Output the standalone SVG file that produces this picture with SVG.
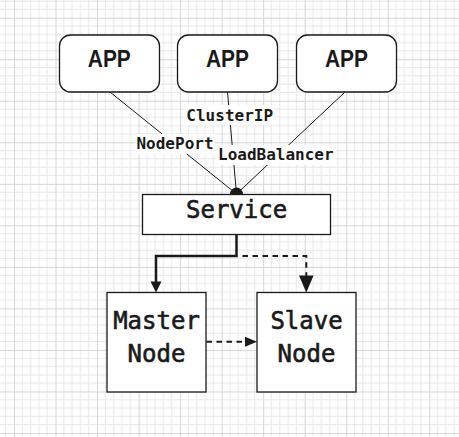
<svg xmlns="http://www.w3.org/2000/svg" width="459" height="437" viewBox="0 0 459 437">
  <defs>
    <pattern id="grid" patternUnits="userSpaceOnUse" x="14" y="17.7" width="41.53" height="41.53">
      <path d="M8.3 0V41.53M16.61 0V41.53M24.92 0V41.53M33.22 0V41.53M0 8.3H41.53M0 16.61H41.53M0 24.92H41.53M0 33.22H41.53" stroke="#e8e8e8" stroke-width="1" fill="none"/>
      <path d="M0.5 0V41.53M0 0.5H41.53" stroke="#d6d6d6" stroke-width="1" fill="none"/>
    </pattern>
    <style>
      .app rect { fill: #ffffff; stroke: #1a1a1a; stroke-width: 1.3; }
      .app text { font-family: "Liberation Sans", Arial, sans-serif; font-weight: bold; font-size: 24px; fill: #1a1a1a; text-anchor: middle; }
      .box rect { fill: #ffffff; stroke: #1a1a1a; stroke-width: 1.3; }
      .box text { font-family: "DejaVu Sans Mono", "Liberation Mono", monospace; font-size: 24px; fill: #1a1a1a; stroke: #1a1a1a; stroke-width: 0.6; text-anchor: middle; }
      .thin { stroke: #1a1a1a; stroke-width: 1; fill: none; }
      .lbl { font-family: "DejaVu Sans Mono", "Liberation Mono", monospace; font-weight: bold; font-size: 16px; fill: #1a1a1a; text-anchor: middle; }
      .lblbg { fill: #ffffff; }
      .solid { stroke: #1a1a1a; stroke-width: 2.5; fill: none; }
      .dash { stroke: #1a1a1a; stroke-width: 2; fill: none; stroke-dasharray: 5.5 4.5; }
      .head { fill: #1a1a1a; }
    </style>
  </defs>
  <rect width="459" height="437" fill="#ffffff"/>
  <rect width="459" height="437" fill="url(#grid)"/>

  <g id="connectors">
    <path class="thin" d="M110 92L236.5 194"/>
    <path class="thin" d="M227.5 92L236.5 194"/>
    <path class="thin" d="M345 92L236.5 194"/>
    <circle class="head" cx="236.5" cy="194" r="6.5"/>
    <rect class="lblbg" x="185" y="105" width="90" height="20"/>
    <text class="lbl" x="229.7" y="120.5">ClusterIP</text>
    <rect class="lblbg" x="135" y="134" width="80" height="20"/>
    <text class="lbl" x="175" y="149">NodePort</text>
    <rect class="lblbg" x="216.5" y="145" width="119" height="20"/>
    <text class="lbl" x="275.8" y="160">LoadBalancer</text>

    <path class="solid" d="M236.5 234.5V256H156V283"/>
    <polygon class="head" points="150.5,281.5 161.5,281.5 156,292.5"/>
    <path class="dash" d="M242.5 256H306.3V276"/>
    <polygon class="head" points="299,275.5 313.6,275.5 306.3,292.5"/>
    <path class="dash" d="M206.5 341.7H246"/>
    <polygon class="head" points="245,336.7 245,346.7 257,341.7"/>
  </g>

  <g id="app1" class="app">
    <rect x="59.5" y="35" width="100" height="57" rx="11"/>
    <text x="109.3" y="66.7" textLength="43" lengthAdjust="spacingAndGlyphs">APP</text>
  </g>
  <g id="app2" class="app">
    <rect x="177.5" y="35" width="100" height="57" rx="11"/>
    <text x="227.5" y="66.7" textLength="43" lengthAdjust="spacingAndGlyphs">APP</text>
  </g>
  <g id="app3" class="app">
    <rect x="296.5" y="35" width="100" height="57" rx="11"/>
    <text x="346.5" y="66.7" textLength="43" lengthAdjust="spacingAndGlyphs">APP</text>
  </g>
  <g id="service" class="box">
    <rect x="142.5" y="194.5" width="188" height="40"/>
    <text x="236.6" y="217.5">Service</text>
  </g>
  <g id="master" class="box">
    <rect x="107" y="292.5" width="99" height="99.5"/>
    <text x="156.5" y="329">Master</text>
    <text x="156.5" y="361.7">Node</text>
  </g>
  <g id="slave" class="box">
    <rect x="257" y="292.5" width="99" height="99.5"/>
    <text x="306.5" y="329">Slave</text>
    <text x="306.5" y="361.7">Node</text>
  </g>
</svg>
